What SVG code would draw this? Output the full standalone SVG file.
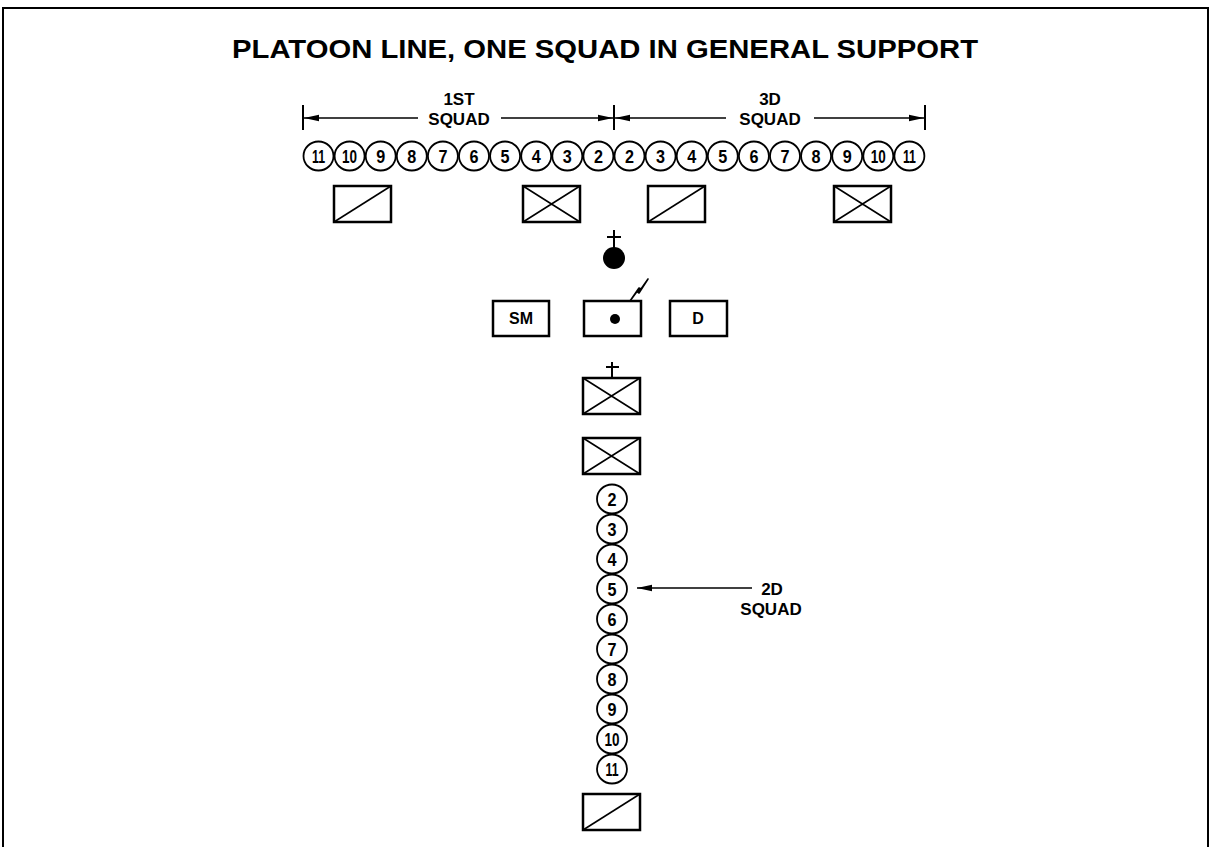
<svg xmlns="http://www.w3.org/2000/svg" width="1212" height="847" viewBox="0 0 1212 847">
<style>
.frame{fill:none;stroke:#000;stroke-width:2}
.box{fill:#fff;stroke:#000;stroke-width:2.5}
.inner{stroke:#000;stroke-width:1.6;fill:none}
.circ{fill:#fff;stroke:#000;stroke-width:1.8}
.num{font-family:"Liberation Sans",Arial,sans-serif;font-weight:bold;font-size:18px;text-anchor:middle;fill:#000}
.lbl{font-family:"Liberation Sans",Arial,sans-serif;font-weight:bold;font-size:17px;text-anchor:middle;fill:#000}
.title{font-family:"Liberation Sans",Arial,sans-serif;font-weight:bold;font-size:25px;text-anchor:middle;fill:#000}
.conn{stroke:#000;stroke-width:1.6;fill:none}
.tick{stroke:#000;stroke-width:2;fill:none}
</style>
<defs>
<marker id="ah" viewBox="0 0 15 8" refX="15" refY="4" markerWidth="15" markerHeight="8" markerUnits="userSpaceOnUse" orient="auto">
<path d="M0,0.8 L15,4 L0,7.2 Z" fill="#000"/>
</marker>
<g id="c"><ellipse class="circ" cx="0" cy="0" rx="15" ry="14.5"/></g>
<g id="xbox"><rect class="box" x="0" y="0" width="57" height="36"/><path class="inner" d="M0,0 L57,36 M0,36 L57,0"/></g>
<g id="dbox"><rect class="box" x="0" y="0" width="57" height="36"/><path class="inner" d="M0,36 L57,0"/></g>
</defs>
<path class="frame" d="M3,847 V8 H1208 V847"/>
<text class="title" x="605" y="58" textLength="746" lengthAdjust="spacingAndGlyphs">PLATOON LINE, ONE SQUAD IN GENERAL SUPPORT</text>

<g id="connectors">
<path class="tick" d="M303,105 V130 M614,105 V130 M925,105 V130"/>
<line class="conn" x1="418" y1="118" x2="304" y2="118" marker-end="url(#ah)"/>
<line class="conn" x1="501" y1="118" x2="613" y2="118" marker-end="url(#ah)"/>
<line class="conn" x1="726" y1="118" x2="615" y2="118" marker-end="url(#ah)"/>
<line class="conn" x1="814" y1="118" x2="924" y2="118" marker-end="url(#ah)"/>
<line class="conn" x1="752" y1="588" x2="637" y2="588" marker-end="url(#ah)"/>
</g>

<g id="label-1st"><text class="lbl" x="459" y="105">1ST</text><text class="lbl" x="459" y="125">SQUAD</text></g>
<g id="label-3d"><text class="lbl" x="770" y="105">3D</text><text class="lbl" x="770" y="125">SQUAD</text></g>
<g id="label-2d"><text class="lbl" x="772" y="595">2D</text><text class="lbl" x="771" y="615">SQUAD</text></g>

<g id="squad1">
<use href="#c" x="318.5" y="156"/><text class="num" x="318.5" y="162.5" textLength="13" lengthAdjust="spacingAndGlyphs">11</text>
<use href="#c" x="349.6" y="156"/><text class="num" x="349.6" y="162.5" textLength="15" lengthAdjust="spacingAndGlyphs">10</text>
<use href="#c" x="380.7" y="156"/><text class="num" x="380.7" y="162.5" textLength="9" lengthAdjust="spacingAndGlyphs">9</text>
<use href="#c" x="411.8" y="156"/><text class="num" x="411.8" y="162.5" textLength="9" lengthAdjust="spacingAndGlyphs">8</text>
<use href="#c" x="442.9" y="156"/><text class="num" x="442.9" y="162.5" textLength="9" lengthAdjust="spacingAndGlyphs">7</text>
<use href="#c" x="474.0" y="156"/><text class="num" x="474.0" y="162.5" textLength="9" lengthAdjust="spacingAndGlyphs">6</text>
<use href="#c" x="505.1" y="156"/><text class="num" x="505.1" y="162.5" textLength="9" lengthAdjust="spacingAndGlyphs">5</text>
<use href="#c" x="536.2" y="156"/><text class="num" x="536.2" y="162.5" textLength="9" lengthAdjust="spacingAndGlyphs">4</text>
<use href="#c" x="567.3" y="156"/><text class="num" x="567.3" y="162.5" textLength="9" lengthAdjust="spacingAndGlyphs">3</text>
<use href="#c" x="598.4" y="156"/><text class="num" x="598.4" y="162.5" textLength="9" lengthAdjust="spacingAndGlyphs">2</text>
</g>
<g id="squad3">
<use href="#c" x="629.5" y="156"/><text class="num" x="629.5" y="162.5" textLength="9" lengthAdjust="spacingAndGlyphs">2</text>
<use href="#c" x="660.6" y="156"/><text class="num" x="660.6" y="162.5" textLength="9" lengthAdjust="spacingAndGlyphs">3</text>
<use href="#c" x="691.7" y="156"/><text class="num" x="691.7" y="162.5" textLength="9" lengthAdjust="spacingAndGlyphs">4</text>
<use href="#c" x="722.8" y="156"/><text class="num" x="722.8" y="162.5" textLength="9" lengthAdjust="spacingAndGlyphs">5</text>
<use href="#c" x="753.9" y="156"/><text class="num" x="753.9" y="162.5" textLength="9" lengthAdjust="spacingAndGlyphs">6</text>
<use href="#c" x="785.0" y="156"/><text class="num" x="785.0" y="162.5" textLength="9" lengthAdjust="spacingAndGlyphs">7</text>
<use href="#c" x="816.1" y="156"/><text class="num" x="816.1" y="162.5" textLength="9" lengthAdjust="spacingAndGlyphs">8</text>
<use href="#c" x="847.2" y="156"/><text class="num" x="847.2" y="162.5" textLength="9" lengthAdjust="spacingAndGlyphs">9</text>
<use href="#c" x="878.3" y="156"/><text class="num" x="878.3" y="162.5" textLength="15" lengthAdjust="spacingAndGlyphs">10</text>
<use href="#c" x="909.4" y="156"/><text class="num" x="909.4" y="162.5" textLength="13" lengthAdjust="spacingAndGlyphs">11</text>
</g>

<g id="vehicle-1"><use href="#dbox" x="334" y="186"/></g>
<g id="vehicle-2"><use href="#xbox" x="523" y="186"/></g>
<g id="vehicle-3"><use href="#dbox" x="648" y="186"/></g>
<g id="vehicle-4"><use href="#xbox" x="834" y="186"/></g>

<g id="platoon-leader">
<path class="tick" d="M614,230 V248 M607,237 H621"/>
<circle cx="614" cy="258" r="11" fill="#000"/>
</g>

<g id="sm"><rect class="box" x="493" y="301" width="56" height="35"/><text class="lbl" x="521" y="324" style="font-size:16px">SM</text></g>
<g id="cmd">
<rect class="box" x="584" y="301" width="57" height="35"/>
<circle cx="615" cy="319" r="5" fill="#000"/>
<path d="M630,301 L637,291.5 L639,293 L648,279 L641,289 L639,288 Z" fill="#000" stroke="#000" stroke-width="1.6" stroke-linejoin="round"/>
</g>
<g id="d"><rect class="box" x="670" y="301" width="57" height="35"/><text class="lbl" x="698" y="324" style="font-size:16px">D</text></g>

<g id="vehicle-5">
<path class="tick" d="M612,362 V378 M606,367 H619"/>
<use href="#xbox" x="583" y="378"/>
</g>
<g id="vehicle-6"><use href="#xbox" x="583" y="438"/></g>

<g id="squad2">
<use href="#c" x="612" y="499"/><text class="num" x="612" y="505.5" textLength="9" lengthAdjust="spacingAndGlyphs">2</text>
<use href="#c" x="612" y="529"/><text class="num" x="612" y="535.5" textLength="9" lengthAdjust="spacingAndGlyphs">3</text>
<use href="#c" x="612" y="559"/><text class="num" x="612" y="565.5" textLength="9" lengthAdjust="spacingAndGlyphs">4</text>
<use href="#c" x="612" y="589"/><text class="num" x="612" y="595.5" textLength="9" lengthAdjust="spacingAndGlyphs">5</text>
<use href="#c" x="612" y="619"/><text class="num" x="612" y="625.5" textLength="9" lengthAdjust="spacingAndGlyphs">6</text>
<use href="#c" x="612" y="649"/><text class="num" x="612" y="655.5" textLength="9" lengthAdjust="spacingAndGlyphs">7</text>
<use href="#c" x="612" y="679"/><text class="num" x="612" y="685.5" textLength="9" lengthAdjust="spacingAndGlyphs">8</text>
<use href="#c" x="612" y="709"/><text class="num" x="612" y="715.5" textLength="9" lengthAdjust="spacingAndGlyphs">9</text>
<use href="#c" x="612" y="739"/><text class="num" x="612" y="745.5" textLength="15" lengthAdjust="spacingAndGlyphs">10</text>
<use href="#c" x="612" y="769"/><text class="num" x="612" y="775.5" textLength="13" lengthAdjust="spacingAndGlyphs">11</text>
</g>

<g id="vehicle-7"><use href="#dbox" x="583" y="794"/></g>
</svg>
